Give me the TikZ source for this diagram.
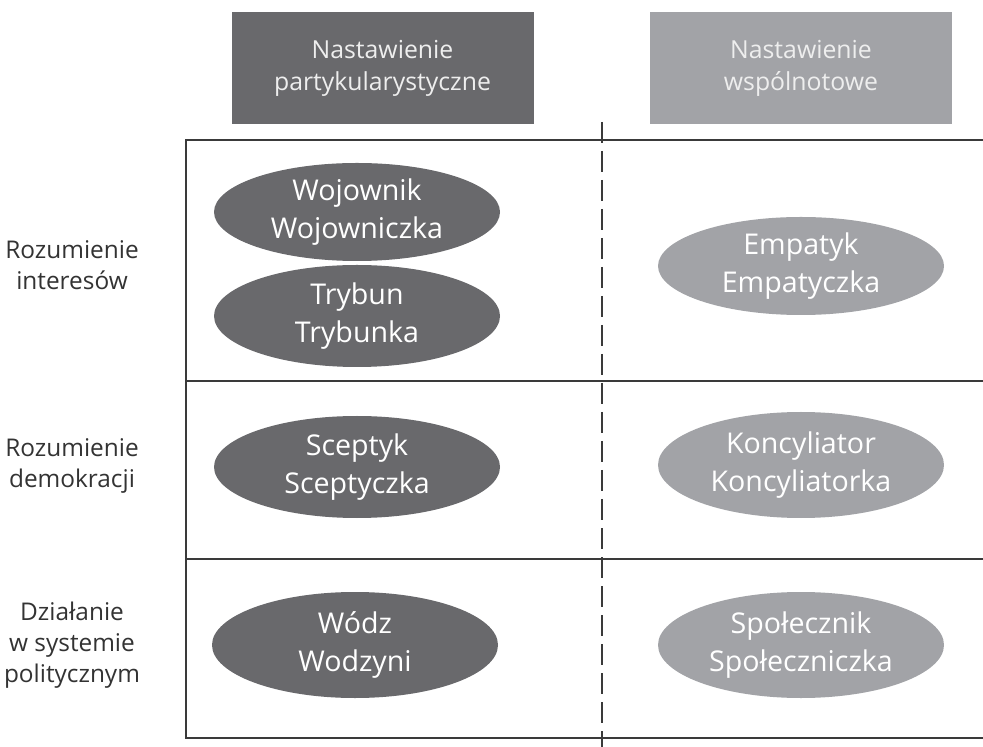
\documentclass[tikz,border=0pt]{standalone}
\usepackage{fontspec}
\setmainfont{Open Sans}
\usetikzlibrary{shapes.geometric}
\definecolor{darkfill}{HTML}{69696C}
\definecolor{lightfill}{HTML}{A2A3A7}
\definecolor{linecol}{HTML}{3A3A3A}
\definecolor{labelcol}{HTML}{333333}
\definecolor{textlight}{HTML}{EEEEEE}
\begin{document}
\begin{tikzpicture}[x=0.5pt,y=-0.5pt,
  header/.style={rectangle, minimum width=151pt, minimum height=56pt, inner sep=0pt,
    text=textlight, align=center, font=\fontsize{12.4}{16}\selectfont},
  darkhead/.style={header, fill=darkfill},
  lighthead/.style={header, fill=lightfill},
  role/.style={ellipse, minimum width=143pt, minimum height=51pt, inner sep=0pt,
    text=white, align=center, font=\fontsize{14.3}{19}\selectfont},
  darkrole/.style={role, fill=darkfill},
  lightrole/.style={role, fill=lightfill},
  rowlabel/.style={text=labelcol, align=center, font=\fontsize{12.2}{15.5}\selectfont},
  gridline/.style={draw=linecol, line width=1.1pt},
  divider/.style={draw=linecol, line width=0.8pt, dash pattern=on 10.5pt off 4pt}
]
\useasboundingbox (0,0) rectangle (983,747);

% headers
\node[darkhead] (hpart) at (382.5,68) {Nastawienie\\partykularystyczne};
\node[lighthead] (hwsp) at (801,68) {Nastawienie\\wspólnotowe};

% grid
\coordinate (tl) at (186,140);
\coordinate (bl) at (186,738);
\coordinate (r1l) at (186,381);
\coordinate (r2l) at (186,559);
\coordinate (tr) at (990,140);
\coordinate (r1r) at (990,381);
\coordinate (r2r) at (990,559);
\coordinate (br) at (990,738);
\coordinate (dtop) at (602,122);
\coordinate (dbot) at (602,750);

\draw[divider] (dtop) -- (dbot);
\draw[gridline] (tr) -- (tl) -- (bl) -- (br);
\draw[gridline] (r1l) -- (r1r);
\draw[gridline] (r2l) -- (r2r);

% row labels
\node[rowlabel] (l1) at (72,265) {Rozumienie\\interesów};
\node[rowlabel] (l2) at (72,466) {Rozumienie\\demokracji};
\node[rowlabel] (l3) at (72,645) {Działanie\\w systemie\\politycznym};

% roles
\node[darkrole, minimum height=49pt] (woj) at (357,212) {Wojownik\\Wojowniczka};
\node[darkrole] (tryb) at (357,316) {Trybun\\Trybunka};
\node[lightrole, minimum height=49pt] (emp) at (801,266) {Empatyk\\Empatyczka};
\node[darkrole] (scep) at (357,467) {Sceptyk\\Sceptyczka};
\node[lightrole, minimum height=53pt] (konc) at (801,465) {Koncyliator\\Koncyliatorka};
\node[darkrole, minimum height=53pt] (wodz) at (355,645) {Wódz\\Wodzyni};
\node[lightrole, minimum height=53pt] (spol) at (801,645) {Społecznik\\Społeczniczka};
\end{tikzpicture}
\end{document}
